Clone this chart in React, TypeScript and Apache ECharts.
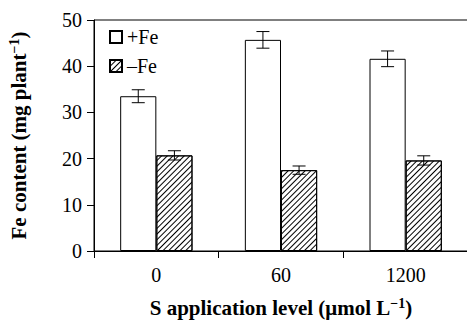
import React, { useEffect, useRef } from "react";
import * as echarts from "echarts";

const categories = ["0", "60", "1200"];
const plusFe = [33.5, 45.7, 41.6];
const plusFeErr = [1.4, 1.8, 1.7];
const minusFe = [20.7, 17.5, 19.6];
const minusFeErr = [1.0, 0.9, 1.0];
const seriesNames = ["+Fe", "\u2013Fe"];
const yTicks = { min: 0, max: 50, interval: 10 };

const FONT = "Liberation Serif";
const CAT_GAP = 0.42;
const FS = 20;
const TFS = 21;

function errorSeries(vals: number[], errs: number[], side: number) {
  return {
    type: "custom",
    z: 10,
    silent: true,
    data: vals.map((v, i) => [i, v, errs[i]]),
    encode: { x: 0, y: 1 },
    renderItem: (params: any, api: any) => {
      const idx = api.value(0);
      const v = api.value(1);
      const e = api.value(2);
      const band = api.size([1, 0])[0];
      const barW = (band * (1 - CAT_GAP)) / 2;
      const c = api.coord([idx, v]);
      const x = c[0] + (side * barW) / 2;
      const top = api.coord([idx, v + e])[1];
      const bot = api.coord([idx, v - e])[1];
      const cap = 6.5;
      const st = { stroke: "#000", lineWidth: 1 };
      return {
        type: "group",
        children: [
          { type: "line", shape: { x1: x, y1: top, x2: x, y2: bot }, style: st },
          { type: "line", shape: { x1: x - cap, y1: top, x2: x + cap, y2: top }, style: st },
          { type: "line", shape: { x1: x - cap, y1: bot, x2: x + cap, y2: bot }, style: st },
        ],
      };
    },
  };
}

export default function App() {
  const ref = useRef<HTMLDivElement>(null);
  useEffect(() => {
    if (!ref.current) return;
    const chart = echarts.init(ref.current, undefined, { renderer: "svg" });
    const rich = {
      b: { fontFamily: FONT, fontWeight: "bold", fontSize: TFS, color: "#000" },
      sup: {
        fontFamily: FONT,
        fontWeight: "bold",
        fontSize: 14,
        color: "#000",
        verticalAlign: "top",
        padding: [0, 0, 9, 0],
      },
    };
    chart.setOption({
      animation: false,
      backgroundColor: "#fff",
      textStyle: { fontFamily: FONT, fontSize: FS, color: "#000" },
      grid: {
        left: 94,
        top: 20,
        width: 374,
        height: 231,
        containLabel: false,
        outerBoundsMode: "none",
        show: true,
        borderColor: "#000",
        borderWidth: 1,
        backgroundColor: "transparent",
      },
      legend: {
        orient: "vertical",
        left: 109,
        top: 27,
        padding: 0,
        itemWidth: 12,
        itemHeight: 12,
        itemGap: 9,
        icon: "rect",
        textStyle: { fontFamily: FONT, fontSize: FS, color: "#000" },
        data: seriesNames,
      },
      xAxis: {
        type: "category",
        data: categories,
        axisLine: { lineStyle: { color: "#000", width: 1 } },
        axisTick: { show: true, length: 7, lineStyle: { color: "#000" } },
        axisLabel: { fontFamily: FONT, fontSize: FS, color: "#000", margin: 14 },
        name: "{b|S application level (\u03bcmol L}{sup|\u22121}{b|)}",
        nameLocation: "middle",
        nameGap: 45,
        nameTextStyle: { rich },
      },
      yAxis: {
        type: "value",
        min: yTicks.min,
        max: yTicks.max,
        interval: yTicks.interval,
        splitLine: { show: false },
        axisLine: { show: true, lineStyle: { color: "#000", width: 1 } },
        axisTick: { show: true, length: 7, lineStyle: { color: "#000" } },
        axisLabel: { fontFamily: FONT, fontSize: FS, color: "#000", margin: 12 },
        name: "{b|Fe content (mg plant}{sup|\u22121}{b|)}",
        nameLocation: "middle",
        nameRotate: 90,
        nameGap: 64,
        nameTextStyle: { rich },
      },
      series: [
        {
          name: seriesNames[0],
          type: "bar",
          data: plusFe,
          barGap: "0%",
          barCategoryGap: CAT_GAP * 100 + "%",
          itemStyle: { color: "#fff", borderColor: "#000", borderWidth: 1 },
        },
        {
          name: seriesNames[1],
          type: "bar",
          data: minusFe,
          barGap: "0%",
          barCategoryGap: CAT_GAP * 100 + "%",
          itemStyle: {
            color: "#fff",
            borderColor: "#000",
            borderWidth: 1,
            decal: {
              symbol: "rect",
              symbolSize: 1,
              color: "#000",
              dashArrayX: [1, 0],
              dashArrayY: [0.9, 2.5],
              rotation: -Math.PI / 4,
            },
          },
        },
        errorSeries(plusFe, plusFeErr, -1),
        errorSeries(minusFe, minusFeErr, 1),
      ],
    });
    return () => chart.dispose();
  }, []);
  return (
    <div
      ref={ref}
      style={{ position: "fixed", left: 0, top: 0, width: 467, height: 321 }}
    />
  );
}
